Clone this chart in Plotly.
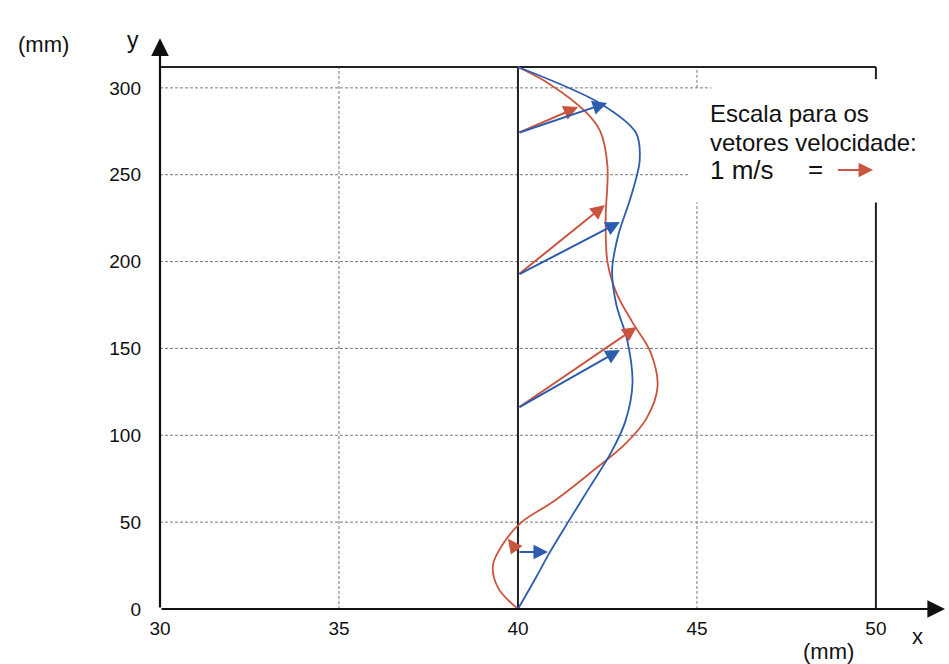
import plotly.graph_objects as go

# ---- data (mm) ----
red_x = [40.0, 39.45, 39.30, 39.60, 40.10, 41.00, 42.00, 43.00, 43.60, 43.90, 43.70, 43.20,
         42.75, 42.50, 42.45, 42.50, 42.30, 41.90, 40.90, 40.0]
red_y = [0, 12, 25, 38, 50, 62, 78, 95, 110, 128, 148, 165,
         182, 200, 225, 255, 275, 286, 302, 312]

blue_x = [40.0, 40.50, 40.90, 41.40, 42.00, 42.60, 43.00, 43.20, 43.05, 42.75, 42.63, 42.80,
          43.15, 43.40, 43.30, 42.30, 40.0]
blue_y = [0, 18, 33, 50, 70, 90, 108, 130, 155, 175, 195, 215,
          237, 258, 274, 291, 312]

# velocity vectors: common tails on x = 40, heads for red and blue
arrow_tail_y = [274, 192.3, 115.7, 32.8]
red_head_x = [41.68, 42.43, 43.32, 39.72]
red_head_y = [289, 232.6, 162.3, 40.5]
blue_head_x = [42.49, 42.85, 42.85, 40.84]
blue_head_y = [291.3, 222.8, 149.1, 32.8]

x_ticks = [30, 35, 40, 45, 50]
y_ticks = [0, 50, 100, 150, 200, 250, 300]
y_top = 312

RED = "#c9553f"
BLUE = "#2c5caf"
FONT = "Liberation Sans, Arial, sans-serif"

fig = go.Figure()

fig.add_trace(go.Scatter(x=red_x, y=red_y, mode="lines",
                         line=dict(color=RED, width=1.8, shape="spline", smoothing=1.0),
                         hoverinfo="skip", showlegend=False))
fig.add_trace(go.Scatter(x=blue_x, y=blue_y, mode="lines",
                         line=dict(color=BLUE, width=1.8, shape="spline", smoothing=0.9),
                         hoverinfo="skip", showlegend=False))

shapes = []
grid = dict(color="#7a7a7a", width=1, dash="3px,2px")
# horizontal grid lines (legend box masks the right part of the upper two)
grid_end = {250: 44.8, 300: 45.4}
for gy in y_ticks[1:]:
    shapes.append(dict(type="line", xref="x", yref="y", x0=30, x1=grid_end.get(gy, 50),
                       y0=gy, y1=gy, line=grid, layer="below"))
# vertical grid lines
shapes.append(dict(type="line", xref="x", yref="y", x0=35, x1=35, y0=0, y1=y_top, line=grid, layer="below"))
shapes.append(dict(type="line", xref="x", yref="y", x0=45, x1=45, y0=0, y1=234, line=grid, layer="below"))
shapes.append(dict(type="line", xref="x", yref="y", x0=45, x1=45, y0=300, y1=y_top, line=grid, layer="below"))
solid = dict(color="#222", width=2)
shapes.append(dict(type="line", xref="x", yref="y", x0=40, x1=40, y0=0, y1=y_top, line=solid, layer="below"))
shapes.append(dict(type="line", xref="x", yref="y", x0=50, x1=50, y0=0, y1=234, line=solid, layer="below"))
shapes.append(dict(type="line", xref="x", yref="y", x0=50, x1=50, y0=305, y1=y_top, line=solid, layer="below"))
shapes.append(dict(type="line", xref="x", yref="y", x0=30, x1=50, y0=y_top, y1=y_top, line=solid, layer="below"))

annotations = []
# axes with arrows
annotations.append(dict(x=51.93, y=0, ax=30, ay=0, xref="x", yref="y", axref="x", ayref="y",
                        text="", showarrow=True, arrowhead=2, arrowsize=1.6, arrowwidth=2.2,
                        arrowcolor="#111"))
annotations.append(dict(x=30, y=328.5, ax=30, ay=0, xref="x", yref="y", axref="x", ayref="y",
                        text="", showarrow=True, arrowhead=2, arrowsize=1.6, arrowwidth=2.2,
                        arrowcolor="#111"))

# velocity vectors
for ty, rx, ry in zip(arrow_tail_y, red_head_x, red_head_y):
    annotations.append(dict(x=rx, y=ry, ax=40, ay=ty, xref="x", yref="y", axref="x", ayref="y",
                            text="", showarrow=True, arrowhead=2, arrowsize=1.45, arrowwidth=2,
                            arrowcolor=RED))
for ty, bx, by in zip(arrow_tail_y, blue_head_x, blue_head_y):
    annotations.append(dict(x=bx, y=by, ax=40, ay=ty, xref="x", yref="y", axref="x", ayref="y",
                            text="", showarrow=True, arrowhead=2, arrowsize=1.45, arrowwidth=2,
                            arrowcolor=BLUE))

# scale legend
legend_lines = ["Escala para os", "vetores velocidade:"]
legend_y = [285.5, 268.5]
for t, ly in zip(legend_lines, legend_y):
    annotations.append(dict(x=45.3, y=ly, xref="x", yref="y", text=t, showarrow=False,
                            xanchor="left", yanchor="middle",
                            font=dict(family=FONT, size=24, color="#111")))
annotations.append(dict(x=45.3, y=252.7, xref="x", yref="y", text="1 m/s", showarrow=False,
                        xanchor="left", yanchor="middle",
                        font=dict(family=FONT, size=26, color="#111")))
annotations.append(dict(x=48.3, y=253.5, xref="x", yref="y", text="=", showarrow=False,
                        xanchor="center", yanchor="middle",
                        font=dict(family=FONT, size=26, color="#111")))
annotations.append(dict(x=49.92, y=252.7, ax=48.9, ay=252.7, xref="x", yref="y", axref="x", ayref="y",
                        text="", showarrow=True, arrowhead=2, arrowsize=1.45, arrowwidth=2,
                        arrowcolor=RED))

# axis titles
title_font = dict(family=FONT, size=22, color="#111")
annotations.append(dict(x=-0.149, y=0.988, xref="paper", yref="paper", text="(mm)", showarrow=False,
                        xanchor="center", yanchor="middle", font=title_font))
annotations.append(dict(x=-0.034, y=0.996, xref="paper", yref="paper", text="y", showarrow=False,
                        xanchor="center", yanchor="middle", font=dict(family=FONT, size=23, color="#111")))
annotations.append(dict(x=0.852, y=-0.0753, xref="paper", yref="paper", text="(mm)", showarrow=False,
                        xanchor="center", yanchor="middle", font=title_font))
annotations.append(dict(x=0.9656, y=-0.049, xref="paper", yref="paper", text="x", showarrow=False,
                        xanchor="center", yanchor="middle", font=title_font))

fig.update_layout(
    width=949, height=664,
    margin=dict(l=160, r=4, t=38, b=55),
    paper_bgcolor="white", plot_bgcolor="white",
    shapes=shapes, annotations=annotations,
    xaxis=dict(range=[30, 51.93], showgrid=False, zeroline=False, showline=False,
               tickvals=x_ticks, ticks="", ticklabelstandoff=6,
               tickfont=dict(family=FONT, size=19, color="#111"), fixedrange=True),
    yaxis=dict(range=[0, 328.7], showgrid=False, zeroline=False, showline=False,
               tickvals=y_ticks, ticks="", ticklabelstandoff=18,
               tickfont=dict(family=FONT, size=19, color="#111"), fixedrange=True),
)

fig.write_html("out.html")
